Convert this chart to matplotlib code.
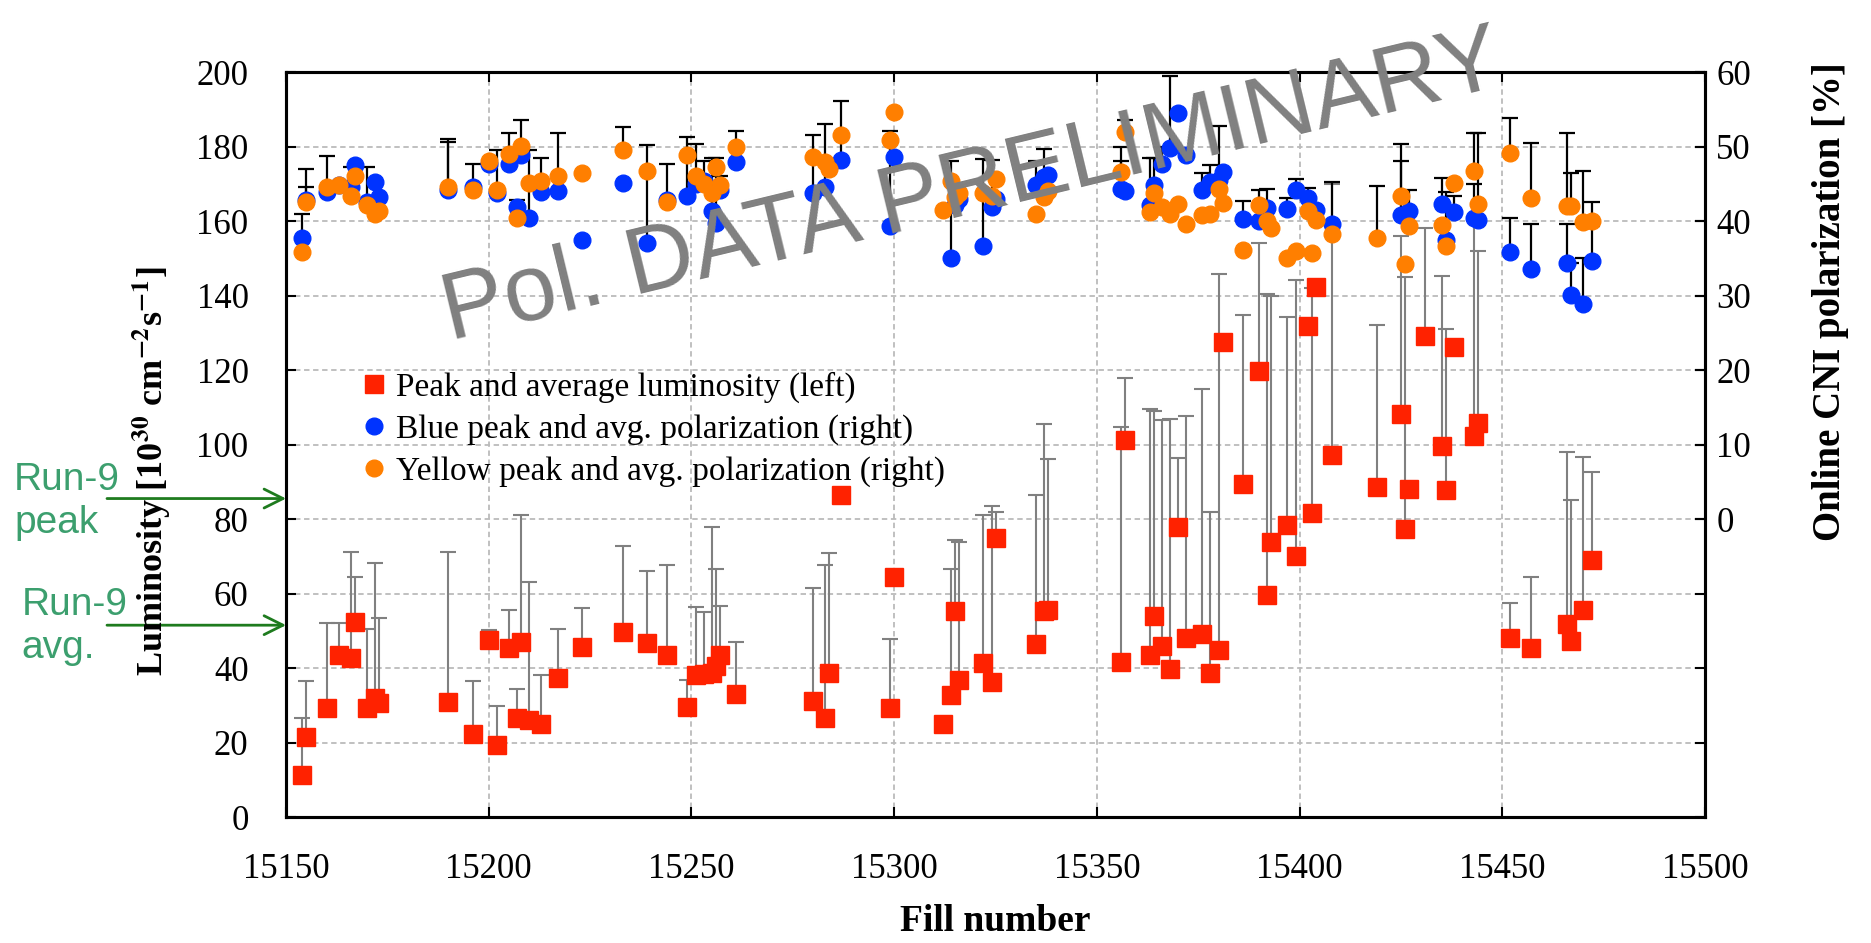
import numpy as np
import matplotlib.pyplot as plt
from matplotlib.lines import Line2D

plt.rcParams['font.family'] = 'Liberation Serif'
plt.rcParams['mathtext.fontset'] = 'stix'

nan = np.nan

# fill numbers (one entry per fill, same order in every list below)
fill = [15154, 15155, 15160, 15163, 15166, 15167, 15170, 15172, 15173, 15190,
        15196, 15200, 15202, 15205, 15207, 15208, 15210, 15213, 15217, 15223,
        15233, 15239, 15244, 15249, 15251, 15253, 15255, 15256, 15257, 15261,
        15280, 15283, 15284, 15287, 15299, 15300, 15312, 15314, 15315, 15316,
        15322, 15324, 15325, 15335, 15337, 15338, 15356, 15357, 15363, 15364,
        15366, 15368, 15370, 15372, 15376, 15378, 15380, 15381, 15386, 15390,
        15392, 15393, 15397, 15399, 15402, 15403, 15404, 15408, 15419, 15425,
        15426, 15427, 15431, 15435, 15436, 15438, 15443, 15444, 15452, 15457,
        15466, 15467, 15470, 15472]

# luminosity [1e30 cm^-2 s^-1]: average (square) and peak (bar top)
lumi_avg = [11.3, 21.4, 29.3, 43.5, 42.6, 52.4, 29.3, 31.9, 30.5, 30.8,
            22.2, 47.5, 19.3, 45.3, 26.5, 47.1, 26.0, 25.1, 37.4, 45.7,
            49.6, 46.8, 43.5, 29.6, 38.1, 38.3, 38.6, 40.5, 43.5, 33.0,
            31.2, 26.5, 38.6, 86.4, 29.3, 64.5, 25.1, 32.8, 55.4, 36.8,
            41.4, 36.3, 74.8, 46.4, 55.4, 55.6, 41.6, 101.1, 43.4, 54.1,
            45.8, 39.7, 77.9, 48.1, 49.0, 38.6, 44.8, 127.6, 89.5, 119.8,
            59.7, 73.7, 78.3, 70.0, 131.9, 81.6, 142.4, 97.2, 88.6, 108.1,
            77.4, 88.1, 129.2, 99.5, 87.8, 126.3, 102.4, 105.9, 48.1, 45.5,
            51.8, 47.3, 55.7, 69.0]
lumi_peak = [26.5, 36.6, 52.2, 52.2, 71.2, 64.5, 50.6, 68.3, 53.5, 71.2,
             36.6, 50.2, 29.8, 55.7, 34.4, 81.0, 63.2, 38.0, 50.6, 56.0,
             72.8, 66.1, 67.7, 36.8, 56.5, 55.0, 77.8, 66.6, 56.7, 47.1,
             61.6, 67.7, 70.8, nan, 47.8, nan, nan, 66.6, 74.5, 73.9,
             81.0, 83.5, 82.0, 86.4, 105.6, 96.1, 104.8, 117.9, 109.5, 109.0,
             106.7, 106.9, 96.5, 107.6, 114.9, 81.9, 145.7, nan, 134.9, 154.2,
             140.3, 139.9, 134.2, 144.2, 133.6, 142.0, nan, 170.0, 132.0, 155.9,
             144.9, nan, 158.1, 145.3, 130.9, nan, 160.0, 152.0, 57.4, 64.4,
             97.9, 85.1, 96.7, 92.7]

# online CNI polarization [%]
blue_avg = [37.7, 42.8, 43.9, 44.8, 44.6, 47.5, 42.5, 45.3, 43.2, 44.2,
            44.6, 47.7, 43.8, 47.7, 41.9, 48.9, 40.4, 43.9, 44.0, 37.5,
            45.1, 37.0, 42.8, 43.4, 45.0, 45.4, 41.4, 39.7, 44.2, 47.9,
            43.8, 44.6, 47.2, 48.2, 39.4, 48.6, nan, 35.1, 42.1, 43.0,
            36.7, 41.9, 43.0, 44.8, 45.9, 46.2, 44.3, 44.0, 42.1, 44.8,
            47.6, 49.8, 54.5, 48.9, 44.2, 45.2, 45.5, 46.6, 40.3, 40.0,
            41.7, nan, 41.6, 44.2, 43.1, nan, 41.5, 39.6, nan, 40.8,
            nan, 41.4, nan, 42.3, 37.5, 41.2, 40.4, 40.2, 35.8, 33.5,
            34.4, 30.1, 28.8, 34.6]
blue_peak = [41.0, 47.0, 48.7, nan, nan, nan, 47.2, nan, nan, 51.0,
             47.6, nan, 49.6, 51.8, 42.8, 53.5, 49.6, 48.5, 51.8, nan,
             nan, 50.2, 47.6, 51.3, 50.4, 48.0, 48.5, 48.5, 46.0, 52.1,
             51.6, 53.0, nan, 56.1, 52.1, nan, nan, 48.1, nan, nan,
             48.3, 48.2, nan, 48.1, 49.7, nan, 48.0, nan, 48.5, 48.5,
             50.0, 59.5, nan, nan, 46.5, 47.5, nan, nan, 42.7, 44.1,
             44.3, nan, 43.1, 45.6, 44.5, nan, nan, 45.3, nan, 48.1,
             nan, nan, nan, 45.8, 43.9, 43.3, 45.0, nan, 40.4, 39.6,
             39.6, 34.4, 35.0, 39.3]
yellow_avg = [35.8, 42.5, 44.6, 44.8, 43.4, 46.0, 42.2, 41.0, 41.3, 44.6,
              44.2, 48.0, 44.2, 49.0, 40.4, 50.1, 45.1, 45.4, 46.0, 46.5,
              49.6, 46.7, 42.5, 48.8, 46.1, 45.0, 43.7, 47.3, 44.8, 49.9,
              48.6, 47.9, 47.0, 51.6, 50.9, 54.6, 41.5, 45.4, 43.2, 43.7,
              43.7, 43.4, 45.6, 41.0, 43.2, 44.0, 46.6, 52.0, 41.2, 43.7,
              41.9, 40.9, 42.3, 39.6, 40.8, 41.0, 44.3, 42.4, 36.1, 42.2,
              40.0, 39.1, 35.0, 36.0, 41.3, 35.7, 40.1, 38.2, 37.7, 43.4,
              34.2, 39.4, nan, 39.5, 36.7, 45.1, 46.7, 42.3, 49.2, 43.1,
              42.0, 42.0, 39.9, 40.0]
yellow_peak = [nan, 44.6, nan, nan, 47.2, nan, nan, nan, nan, 50.6,
               nan, nan, nan, nan, nan, nan, nan, nan, nan, nan,
               52.6, nan, nan, nan, nan, nan, nan, nan, nan, nan,
               nan, nan, nan, nan, nan, nan, nan, nan, nan, nan,
               nan, nan, nan, nan, nan, nan, 50.0, 53.5, nan, nan,
               nan, nan, nan, nan, nan, nan, 52.7, nan, nan, nan,
               nan, nan, nan, nan, nan, nan, nan, nan, 44.7, 50.4,
               nan, 44.2, nan, nan, nan, nan, 51.8, 51.8, 53.8, 50.5,
               51.8, 46.5, 46.7, 42.5]

x_ticks = [15150, 15200, 15250, 15300, 15350, 15400, 15450, 15500]
lumi_ticks = [0, 20, 40, 60, 80, 100, 120, 140, 160, 180, 200]
pol_ticks = [0, 10, 20, 30, 40, 50, 60]

run9_peak = 85.5
run9_avg = 51.5

RED = '#ff2200'
BLUE = '#0033ff'
ORANGE = '#ff7f00'


def bars(axis, x, lo, hi, color, lw, cap):
    x = np.asarray(x, float)
    lo = np.asarray(lo, float)
    hi = np.asarray(hi, float)
    ok = np.isfinite(lo) & np.isfinite(hi)
    axis.errorbar(x[ok], lo[ok], yerr=[np.zeros(ok.sum()), hi[ok] - lo[ok]],
                  fmt='none', ecolor=color, elinewidth=lw, capsize=cap,
                  capthick=lw, zorder=2)


fig = plt.figure(figsize=(18.71, 9.43), dpi=100)
ax = fig.add_axes([0.1529, 0.1336, 0.7584, 0.790])
ax2 = ax.twinx()

ax.set_xlim(15150, 15500)
ax.set_ylim(0, 200)
ax2.set_ylim(-40, 60)

ax.grid(True, ls=(0, (3, 2)), color='#bbbbbb', lw=1.3)
ax.set_axisbelow(True)

# luminosity
bars(ax, fill, lumi_avg, lumi_peak, '#808080', 1.5, 6)
ax.plot(fill, lumi_avg, 's', color=RED, ms=13.5, mec=RED, zorder=3)

# polarization
bars(ax2, fill, blue_avg, blue_peak, 'black', 1.6, 5.5)
bars(ax2, fill, yellow_avg, yellow_peak, 'black', 1.6, 5.5)
ax2.plot(fill, blue_avg, 'o', color=BLUE, ms=12, mec=BLUE, zorder=3)
ax2.plot(fill, yellow_avg, 'o', color=ORANGE, ms=12, mec=ORANGE, zorder=4)

ax.set_xticks(x_ticks)
ax.set_yticks(lumi_ticks)
ax2.set_yticks(pol_ticks)
ax.tick_params(axis='both', direction='in', length=7, width=1.5,
               labelsize=25, top=True, right=True)
ax.tick_params(axis='y', pad=27)
ax.tick_params(axis='x', pad=26)
ax2.tick_params(axis='y', direction='in', length=7, width=1.5,
                labelsize=25, pad=8)
for a in (ax, ax2):
    for s in a.spines.values():
        s.set_linewidth(2.2)

fig.text(0.5321, 0.0223, 'Fill number', ha='center', va='center',
         fontsize=27, fontweight='bold')
fig.text(0.081, 0.50,
         r'Luminosity [10$^{\mathbf{30}}$ cm$^{\mathbf{-2}}$s$^{\mathbf{-1}}$]',
         rotation=90, ha='center', va='center', fontsize=26, fontweight='bold')
fig.text(0.9786, 0.68, 'Online CNI polarization [%]', rotation=90,
         ha='center', va='center', fontsize=28, fontweight='bold')

handles = [
    Line2D([], [], ls='none', marker='s', color=RED, ms=13),
    Line2D([], [], ls='none', marker='o', color=BLUE, ms=12),
    Line2D([], [], ls='none', marker='o', color=ORANGE, ms=12),
]
labels = ['Peak and average luminosity (left)',
          'Blue peak and avg. polarization (right)',
          'Yellow peak and avg. polarization (right)']
ax2.legend(handles, labels, loc='upper left', bbox_to_anchor=(0.054, 0.598),
           frameon=False, fontsize=24, handlelength=0.7, handletextpad=0.3,
           labelspacing=0.32, borderpad=0, borderaxespad=0)

# Run-9 reference arrows
GREEN_TXT = '#3c9f6e'
GREEN_ARR = '#1e7b1e'
for val, txt, tx, ty in [(run9_peak, 'Run-9\npeak', 0.0075, 0.468),
                         (run9_avg, 'Run-9\navg.', 0.0115, 0.336)]:
    ax.annotate('', xy=(0, val), xycoords=('axes fraction', 'data'),
                xytext=(107 / 1871, val), textcoords=('figure fraction', 'data'),
                arrowprops=dict(arrowstyle='->', color=GREEN_ARR, lw=2,
                                mutation_scale=34, shrinkA=0, shrinkB=0),
                annotation_clip=False)
    fig.text(tx, ty, txt, ha='left', va='center', fontsize=28,
             family='Liberation Sans', color=GREEN_TXT, linespacing=1.25)

fig.text(0.2405, 0.6394, 'Pol. DATA PRELIMINARY', fontsize=68,
         family='Liberation Sans', color='#808080', rotation=13.6,
         rotation_mode='anchor', ha='left', va='baseline', zorder=10)

fig.savefig('out.png', dpi=100)
